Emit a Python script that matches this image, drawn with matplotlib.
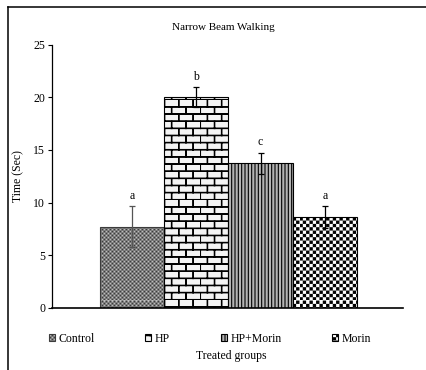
import warnings
import numpy as np
import matplotlib
matplotlib.use('Agg')
import matplotlib.pyplot as plt
import matplotlib.hatch as mhatch
from matplotlib.path import Path
from matplotlib.lines import Line2D

# custom hatch letters (B, C, F) are not in matplotlib's list -> silence the nag
warnings.filterwarnings('ignore', category=matplotlib.MatplotlibDeprecationWarning)

groups = ['Control', 'HP', 'HP+Morin', 'Morin']
means = [7.7, 20.0, 13.75, 8.6]
errors = [1.95, 0.95, 1.0, 1.05]
letters = ['a', 'b', 'c', 'a']

plt.rcParams['font.family'] = 'Liberation Serif'
plt.rcParams['hatch.linewidth'] = 0.8


def rect(verts, codes, x0, y0, w, h):
    verts[:] = [(x0, y0), (x0 + w, y0), (x0 + w, y0 + h), (x0, y0 + h), (x0, y0)]
    codes[:] = [Path.MOVETO, Path.LINETO, Path.LINETO, Path.LINETO, Path.CLOSEPOLY]


class RectHatch(mhatch.HatchPatternBase):
    char = None

    def __init__(self, hatch, density):
        self.rects = self.make_rects() if self.char in hatch else []
        self.num_vertices = 5 * len(self.rects)

    def set_vertices_and_codes(self, vertices, codes):
        for k, r in enumerate(self.rects):
            rect(vertices[5 * k:5 * k + 5], codes[5 * k:5 * k + 5], *r)


class CoarseChecker(RectHatch):
    char, n = 'C', 30

    def make_rects(self):
        s = 1.0 / self.n
        side = s - 0.011
        return [(i * s, j * s, side, side) for i in range(self.n)
                for j in range(self.n) if (i + j) % 2 == 0]


class FineChecker(CoarseChecker):
    char, n = 'F', 50


class Brick(RectHatch):
    char, rows, cols, t = 'B', 14, 7, 0.005

    def make_rects(self):
        h = 1.0 / self.rows
        w = 1.0 / self.cols
        out = []
        for r in range(self.rows):
            out.append((0, r * h, 1, self.t))
            off = 0 if r % 2 == 0 else w / 2
            for c in range(self.cols):
                out.append((c * w + off, r * h, self.t, h))
        return out


mhatch._hatch_types.extend([CoarseChecker, FineChecker, Brick])

styles = [
    dict(facecolor='#bdbdbd', edgecolor='#3c3c3c', hatch='F'),
    dict(facecolor='#f4f4f4', edgecolor='black', hatch='B'),
    dict(facecolor='#b4b4b4', edgecolor='black', hatch='|||||'),
    dict(facecolor='white', edgecolor='black', hatch='C'),
]
ecolors = ['#555555', 'black', 'black', 'black']

fig = plt.figure(figsize=(4.26, 3.70), dpi=100)
ax = fig.add_axes([0.122, 0.168, 0.824, 0.711])

x = np.arange(len(groups))
for xi, m, st, g in zip(x, means, styles, groups):
    ax.bar(xi, m, width=1.0, linewidth=0.8, label=g, **st)
for xi, m, e, c in zip(x, means, errors, ecolors):
    ax.errorbar(xi, m, yerr=e, fmt='none', ecolor=c, elinewidth=0.9,
                capsize=2.2, capthick=0.9)
for xi, m, e, l in zip(x, means, errors, letters):
    ax.text(xi, m + e + 0.45, l, ha='center', va='bottom', fontsize=8.5)

ax.set_xlim(-1.247, 4.216)
ax.set_ylim(0, 25)
ax.set_yticks(np.arange(0, 26, 5))
ax.set_xticks([])
for s in ['top', 'right']:
    ax.spines[s].set_visible(False)
ax.spines['bottom'].set_linewidth(1.2)
ax.spines['left'].set_linewidth(0.9)
ax.tick_params(axis='y', direction='out', length=3, width=0.8, pad=2, labelsize=8.5)
ax.set_ylabel('Time (Sec)', fontsize=8.5)
ax.yaxis.set_label_coords(-0.08, 0.5)

fig.text(0.524, 0.927, 'Narrow Beam Walking', ha='center', va='center', fontsize=8)
fig.text(0.542, 0.038, 'Treated groups', ha='center', va='center', fontsize=8.5)
fig.legend(loc='center left', bbox_to_anchor=(0.115, 0.084), ncol=4, frameon=False,
           handlelength=0.5, handleheight=0.5, handletextpad=0.3, columnspacing=4.3,
           fontsize=8.5, borderpad=0, borderaxespad=0)

# frame lines on the left and top of the picture
fig.add_artist(Line2D([8 / 426, 8 / 426], [0, 1 - 7 / 370], transform=fig.transFigure,
                      color='black', lw=1.1))
fig.add_artist(Line2D([8 / 426, 1], [1 - 7 / 370, 1 - 7 / 370], transform=fig.transFigure,
                      color='black', lw=1.1))

fig.savefig('out.png', dpi=100)
